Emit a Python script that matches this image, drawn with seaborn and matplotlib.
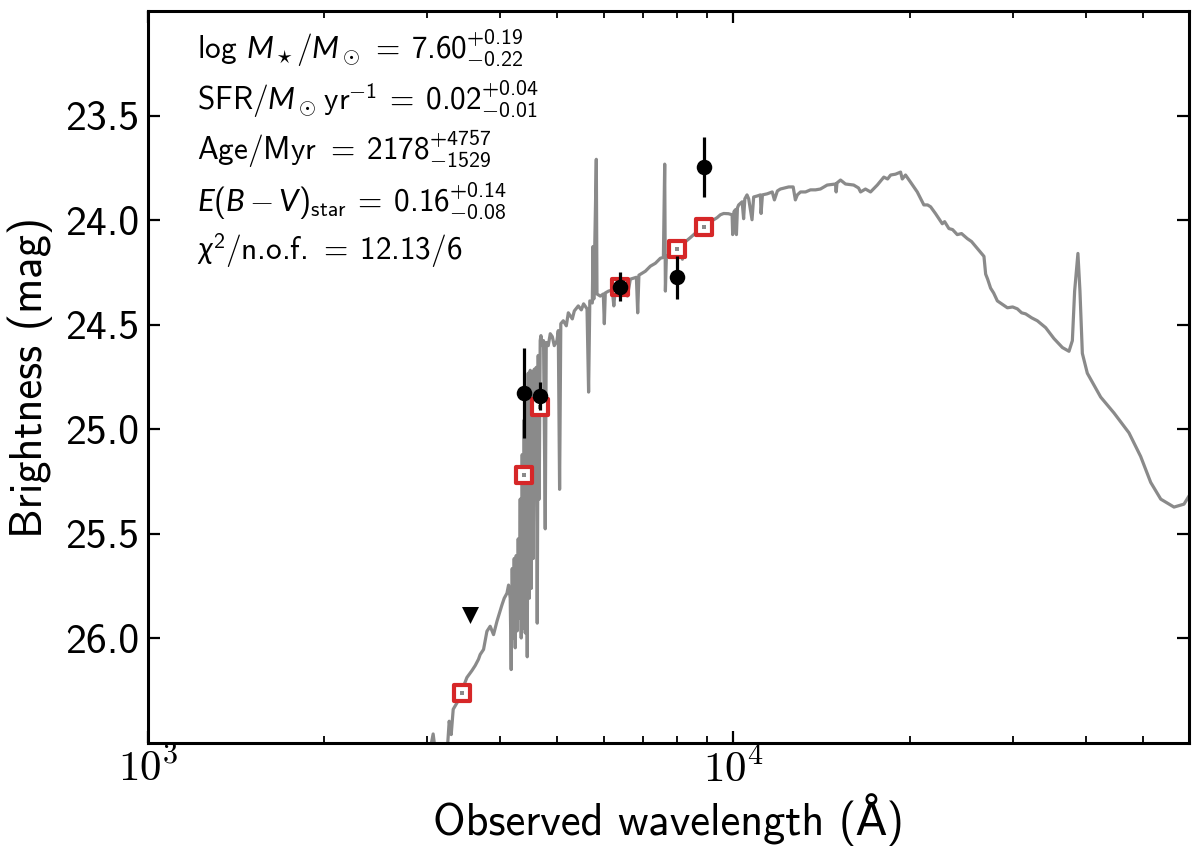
import matplotlib
matplotlib.use("Agg")
import matplotlib.pyplot as plt
import seaborn as sns
import pandas as pd
from matplotlib.ticker import FixedLocator, FormatStrFormatter, LogLocator, NullFormatter

# ---------------- data ----------------
# best-fit model spectrum: observed wavelength (Angstrom) and AB magnitude
spec_wave = [
    2975, 3070, 3119, 3232, 3270, 3296, 3322, 3375, 3438, 3506,
    3576, 3622, 3669, 3694, 3743, 3793, 3842, 3893, 3946, 4024,
    4060, 4104, 4130, 4157, 4173, 4190, 4206, 4223, 4240, 4256,
    4273, 4290, 4307, 4324, 4341, 4358, 4375, 4392, 4410, 4427,
    4445, 4462, 4480, 4498, 4515, 4533, 4551, 4569, 4587, 4605,
    4623, 4641, 4659, 4677, 4691, 4715, 4739, 4771, 4790, 4828,
    4866, 4905, 4943, 4996, 5022, 5048, 5072, 5122, 5183, 5224,
    5307, 5349, 5433, 5498, 5548, 5623, 5658, 5685, 5741, 5757,
    5775, 5832, 5848, 5924, 5995, 6019, 6042, 6121, 6211, 6248,
    6285, 6410, 6538, 6590, 6668, 6828, 6863, 6896, 7074, 7214,
    7358, 7504, 7593, 7632, 7653, 7683, 7805, 7961, 8119, 8183,
    8248, 8445, 8670, 8888, 8993, 9135, 9254, 9378, 9502, 9625,
    9805, 9949, 9972, 10020, 10080, 10120, 10160, 10210, 10350, 10410,
    10460, 10550, 10620, 10760, 10830, 10990, 11120, 11150, 11210, 11420,
    11650, 11750, 11890, 12030, 12430, 12650, 12760, 12860, 13020, 13280,
    13540, 13810, 14080, 14460, 14940, 14980, 15030, 15240, 15540, 16050,
    16360, 16490, 16810, 17150, 17610, 18070, 18340, 18560, 18920, 19300,
    19430, 19680, 20070, 20610, 21150, 21460, 21720, 22150, 22740, 22950,
    23340, 23680, 24120, 24530, 25090, 25510, 26100, 26790, 26970, 27180,
    27500, 27830, 28240, 28720, 29380, 29990, 30550, 31070, 31560, 32320,
    33050, 34150, 35280, 36470, 37430, 37930, 38270, 38770, 39080, 39450,
    40230, 42400, 44680, 47390, 49620, 51620, 53700, 56570, 58840, 60410,
]
spec_mag = [
    26.660, 26.457, 26.610, 26.610, 26.396, 26.460, 26.339, 26.306, 26.249, 26.187,
    26.154, 26.130, 26.100, 26.077, 26.053, 25.966, 25.942, 25.982, 25.918, 25.840,
    25.808, 25.784, 25.745, 25.808, 26.149, 25.666, 25.998, 25.618, 26.045, 25.604,
    25.964, 25.524, 25.903, 25.334, 25.998, 25.121, 25.950, 24.955, 25.974, 24.860,
    26.088, 24.732, 25.808, 24.718, 25.761, 24.727, 25.618, 24.713, 25.192, 24.704,
    25.927, 24.647, 25.334, 24.576, 24.552, 24.600, 24.576, 25.476, 24.585, 24.600,
    24.543, 24.557, 24.600, 24.576, 24.528, 25.287, 24.495, 24.481, 24.505, 24.443,
    24.472, 24.434, 24.410, 24.429, 24.400, 24.424, 24.822, 24.386, 24.396, 24.126,
    24.377, 23.709, 24.353, 24.363, 24.353, 24.495, 24.348, 24.339, 24.334, 24.410,
    24.325, 24.310, 24.301, 24.363, 24.282, 24.273, 24.443, 24.263, 24.244, 24.220,
    24.206, 24.182, 24.178, 23.732, 24.339, 24.173, 24.159, 24.140, 24.121, 24.187,
    24.107, 24.083, 24.055, 24.040, 24.026, 24.002, 23.998, 23.988, 23.974, 23.968,
    23.969, 23.974, 24.069, 23.960, 23.950, 24.069, 23.941, 23.927, 23.912, 23.993,
    23.898, 23.879, 23.898, 23.998, 23.889, 23.884, 23.879, 23.968, 23.879, 23.874,
    23.865, 23.903, 23.860, 23.851, 23.841, 23.841, 23.903, 23.879, 23.865, 23.865,
    23.855, 23.855, 23.851, 23.832, 23.827, 23.865, 23.822, 23.808, 23.827, 23.832,
    23.846, 23.865, 23.851, 23.865, 23.832, 23.794, 23.803, 23.784, 23.780, 23.770,
    23.803, 23.784, 23.818, 23.865, 23.927, 23.927, 23.936, 23.969, 24.017, 24.007,
    24.040, 24.045, 24.069, 24.064, 24.088, 24.102, 24.135, 24.173, 24.258, 24.282,
    24.325, 24.348, 24.386, 24.400, 24.419, 24.415, 24.424, 24.443, 24.448, 24.467,
    24.481, 24.514, 24.566, 24.609, 24.627, 24.576, 24.339, 24.159, 24.339, 24.637,
    24.732, 24.846, 24.922, 25.017, 25.130, 25.254, 25.334, 25.372, 25.358, 25.306,
]

# observed photometry (detections)
obs_wave = [4381, 4665, 6410, 8014, 8913]
obs_mag = [24.826, 24.841, 24.318, 24.272, 23.746]
obs_err = [0.217, 0.067, 0.069, 0.103, 0.145]

# upper limit
ul_wave = [3542]
ul_mag = [25.887]

# model photometry
model_wave = [3438, 4381, 4665, 6410, 8014, 8913]
model_mag = [26.262, 25.219, 24.892, 24.318, 24.137, 24.034]

# fit summary text
fit_lines = [
    r"log $M_\star/M_\odot\;=\;7.60^{+0.19}_{-0.22}$",
    r"SFR/$M_\odot\,$yr$^{-1}\;=\;0.02^{+0.04}_{-0.01}$",
    r"Age/Myr $=\;2178^{+4757}_{-1529}$",
    r"$E(B-V)_{\rm star}\;=\;0.16^{+0.14}_{-0.08}$",
    r"$\chi^2$/n.o.f. $=\;12.13/6$",
]

ytick_values = [23.5, 24.0, 24.5, 25.0, 25.5, 26.0]
xtick_values = [1e3, 1e4]
xtick_labels = [r"$10^3$", r"$10^4$"]
x_label = "Observed wavelength (Å)"
y_label = "Brightness (mag)"

# ---------------- style ----------------
sns.set_theme(style="ticks")
plt.rcParams.update({
    "font.family": ["cmss10", "DejaVu Sans"],
    "mathtext.fontset": "custom",
    "mathtext.rm": "cmss10",
    "mathtext.sf": "cmss10",
    "mathtext.bf": "cmss10",
    "mathtext.it": "Lato:italic",
    "axes.unicode_minus": False,
    "axes.formatter.use_mathtext": True,
    "axes.linewidth": 2.2,
    "axes.edgecolor": "black",
    "text.color": "black",
    "axes.labelcolor": "black",
    "xtick.color": "black",
    "ytick.color": "black",
})

GREY = "#8a8a8a"
RED = "#d62728"

fig, ax = plt.subplots(figsize=(12, 8.52), dpi=100)
fig.subplots_adjust(left=0.1233, right=0.9908, bottom=0.128, top=0.987)
ax.set_xscale("log")

spec = pd.DataFrame({"wave": spec_wave, "mag": spec_mag})
sns.lineplot(data=spec, x="wave", y="mag", sort=False, estimator=None,
             color=GREY, lw=2.3, ax=ax, zorder=1)

sns.scatterplot(x=model_wave, y=model_mag, marker="s", s=135, color="white",
                edgecolor=RED, linewidth=3.0, ax=ax, zorder=3)
sns.scatterplot(x=model_wave, y=model_mag, marker="s", s=9, color=GREY,
                linewidth=0, ax=ax, zorder=4)

ax.errorbar(obs_wave, obs_mag, yerr=obs_err, fmt="none", ecolor="black",
            elinewidth=2.3, capsize=0, zorder=5)
sns.scatterplot(x=obs_wave, y=obs_mag, marker="o", s=125, color="black",
                linewidth=0, ax=ax, zorder=6)
sns.scatterplot(x=ul_wave, y=ul_mag, marker="v", s=150, color="black",
                linewidth=0, ax=ax, zorder=6)

ax.set_xlim(1000, 60000)
ax.set_ylim(26.5, 23.0)
ax.yaxis.set_major_locator(FixedLocator(ytick_values))
ax.yaxis.set_major_formatter(FormatStrFormatter("%.1f"))
ax.set_xticks(xtick_values, labels=xtick_labels, math_fontfamily="cm", fontsize=31)
ax.xaxis.set_minor_locator(LogLocator(base=10, subs=range(2, 10)))
ax.xaxis.set_minor_formatter(NullFormatter())

ax.tick_params(which="both", direction="in", top=True, right=True, color="black")
ax.tick_params(which="major", length=8.5, width=1.6, pad=6)
ax.tick_params(axis="y", labelsize=30)
ax.tick_params(which="minor", length=5, width=1.3)
ax.tick_params(axis="x", which="major", pad=3)

ax.set_xlabel(x_label, fontsize=32, labelpad=2)
ax.set_ylabel(y_label, fontsize=32, labelpad=9)

for i, line in enumerate(fit_lines):
    ax.text(0.047, 0.951 - i * 0.0697, line, transform=ax.transAxes,
            fontsize=22.5, ha="left", va="center", color="black")

for sp in ax.spines.values():
    sp.set_visible(True)
    sp.set_linewidth(2.2)

fig.savefig("out.png", dpi=100)
